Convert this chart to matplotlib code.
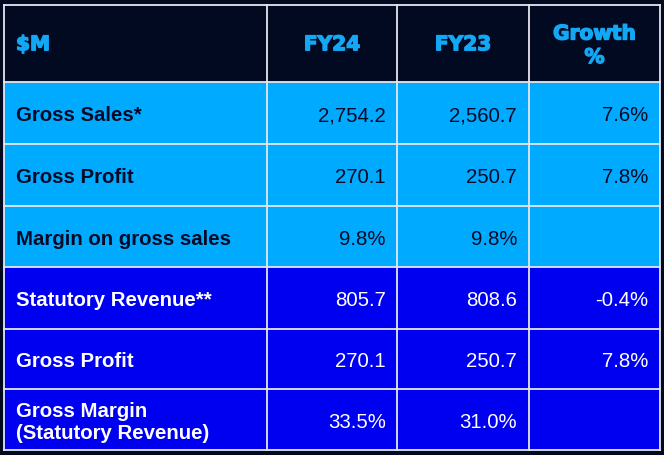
import matplotlib
matplotlib.use("Agg")
import matplotlib.pyplot as plt
from matplotlib.patches import Rectangle
import matplotlib.patheffects as pe

headers = ["$M", "FY24", "FY23", "Growth\n%"]
row_labels = ["Gross Sales*", "Gross Profit", "Margin on gross sales",
              "Statutory Revenue**", "Gross Profit", "Gross Margin\n(Statutory Revenue)"]
fy24 = ["2,754.2", "270.1", "9.8%", "805.7", "270.1", "33.5%"]
fy23 = ["2,560.7", "250.7", "9.8%", "808.6", "250.7", "31.0%"]
growth = ["7.6%", "7.8%", "", "-0.4%", "7.8%", ""]
row_group = [0, 0, 0, 1, 1, 1]

BG = "#020A22"
LIGHT = "#00AAFF"
DARK = "#0000F0"
HEAD_TXT = "#12A8F5"
LINE = "#E6E6EE"
DARK_TXT = "#050A26"

W, H = 664, 456
fig = plt.figure(figsize=(W / 100, H / 100), dpi=100)
fig.patch.set_facecolor(BG)
ax = fig.add_axes([0, 0, 1, 1])
ax.set_xlim(0, W)
ax.set_ylim(H, 0)
ax.axis("off")

col_x = [4, 267, 397, 529, 660]
row_y = [5.5, 83, 145, 207, 268, 330, 390, 451]

# cell backgrounds
for i in range(len(row_labels)):
    c = LIGHT if row_group[i] == 0 else DARK
    ax.add_patch(Rectangle((col_x[0], row_y[i + 1]), col_x[-1] - col_x[0],
                           row_y[i + 2] - row_y[i + 1], facecolor=c, edgecolor="none", zorder=1))

# grid lines
for x in col_x:
    ax.plot([x, x], [row_y[0], row_y[-1]], color=LINE, lw=1.3, zorder=3)
for y in row_y:
    ax.plot([col_x[0], col_x[-1]], [y, y], color=LINE, lw=1.3, zorder=3)

# headers
hy = (row_y[0] + row_y[1]) / 2 + 1.5
stroke = [pe.withStroke(linewidth=1.0, foreground=HEAD_TXT)]
hfont = dict(family="DejaVu Sans", fontweight="bold", fontsize=14.5, color=HEAD_TXT,
             va="center", zorder=4, path_effects=stroke)
ax.text(16, hy, headers[0], ha="left", **hfont)
for j in range(1, 4):
    cx = (col_x[j] + col_x[j + 1]) / 2
    ax.text(cx, hy + (1 if "\n" in headers[j] else 0), headers[j], ha="center",
            linespacing=1.3, **hfont)

# body
right_x = [386, 517, 648]
for i in range(len(row_labels)):
    cy = (row_y[i + 1] + row_y[i + 2]) / 2 + 2
    tc = DARK_TXT if row_group[i] == 0 else "#FFFFFF"
    ax.text(16, cy, row_labels[i], ha="left", va="center", fontsize=14.7,
            fontweight="bold", family="Liberation Sans", color=tc, linespacing=1.25, zorder=4)
    for vals, rx in zip([fy24, fy23, growth], right_x):
        if vals[i]:
            ax.text(rx, cy, vals[i], ha="right", va="center", fontsize=14.7,
                    family="Liberation Sans", color=tc, zorder=4)

fig.savefig("out.png", dpi=100, facecolor=BG)
